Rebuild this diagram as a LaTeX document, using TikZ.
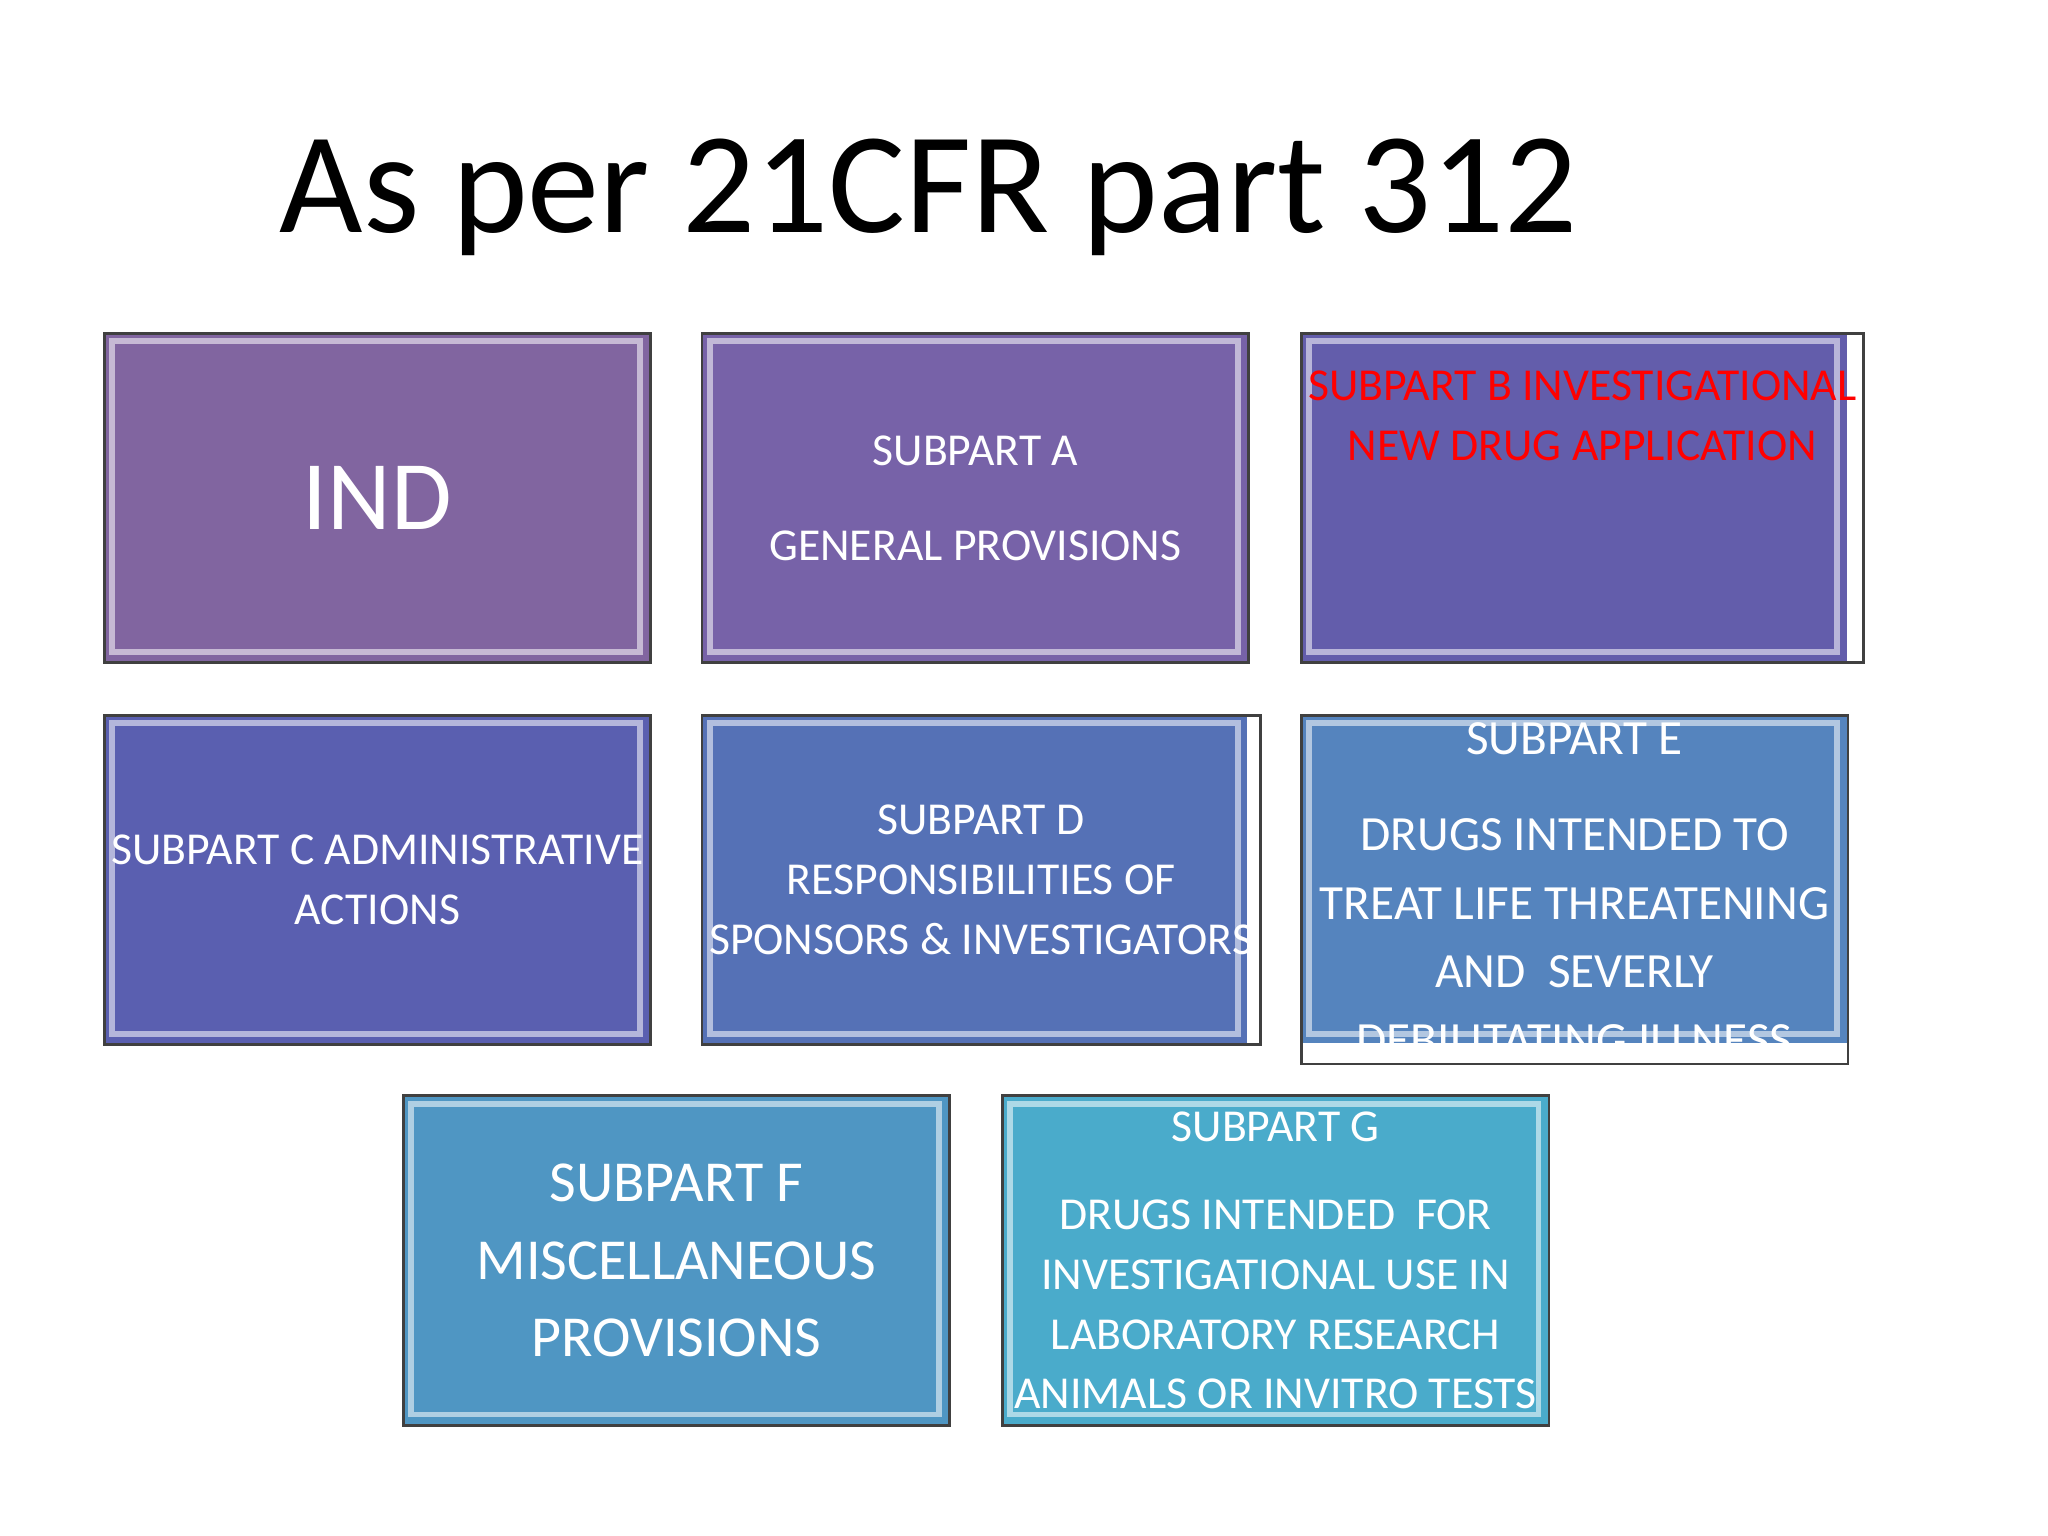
\documentclass[tikz,border=0pt]{standalone}
\usepackage{fontspec}
\setmainfont{Carlito}
\begin{document}
\begin{tikzpicture}[x=0.01317cm,y=-0.01317cm,
  box/.style={draw=black!75,line width=0.8pt,minimum width=415*0.01317cm,minimum height=250*0.01317cm,inner sep=2pt,align=center,text=white,font=\fontsize{13}{17}\selectfont,anchor=north west},
  bevel/.style={draw=white,opacity=0.55,line width=1.6pt}]
\useasboundingbox (0,0) rectangle (1555,1166);
\fill[white] (0,0) rectangle (1555,1166);
\node (title) at (705,150) {\fontsize{41}{48}\selectfont As per 21CFR part 312};
\definecolor{cI}{HTML}{8165A0}\definecolor{cA}{HTML}{7762A8}\definecolor{cB}{HTML}{635DAB}
\definecolor{cC}{HTML}{5A5FB0}\definecolor{cD}{HTML}{5571B6}\definecolor{cE}{HTML}{5584BE}
\definecolor{cF}{HTML}{4F96C3}\definecolor{cG}{HTML}{4AABCB}
\foreach \n/\x/\y/\c in {ind/78/252/cI,a/532/252/cA,b/987/252/cB,c/78/542/cC,d/532/542/cD,e/987/542/cE,f/305/831/cF,g/760/831/cG}{
  \fill[\c] (\x,\y) rectangle ++(415,250);
  \draw[bevel] (\x+7,\y+7) rectangle ++(401,236);
}
\node[box] (ind) at (78,252) {\fontsize{28}{34}\selectfont IND};
\node[box] (a) at (532,252) {SUBPART A\\[10pt] GENERAL PROVISIONS};
\node[box,text=red] (b) at (987,252) {SUBPART B INVESTIGATIONAL\\ NEW DRUG APPLICATION\\[30pt]};
\node[box] (c) at (78,542) {SUBPART C ADMINISTRATIVE\\ ACTIONS};
\node[box] (d) at (532,542) {SUBPART D\\ RESPONSIBILITIES OF\\ SPONSORS \& INVESTIGATORS};
\node[box,font=\fontsize{14}{19.5}\selectfont] (e) at (987,542) {SUBPART E\\[8pt] DRUGS INTENDED TO\\ TREAT LIFE THREATENING\\ AND\ \ SEVERLY\\ DEBILITATING ILLNESS};
\node[box,font=\fontsize{16.5}{22}\selectfont] (f) at (305,831) {SUBPART F\\ MISCELLANEOUS\\ PROVISIONS};
\node[box] (g) at (760,831) {SUBPART G\\[8pt] DRUGS INTENDED\ \ FOR\\ INVESTIGATIONAL USE IN\\ LABORATORY RESEARCH\\ ANIMALS OR INVITRO TESTS};
\end{tikzpicture}
\end{document}
